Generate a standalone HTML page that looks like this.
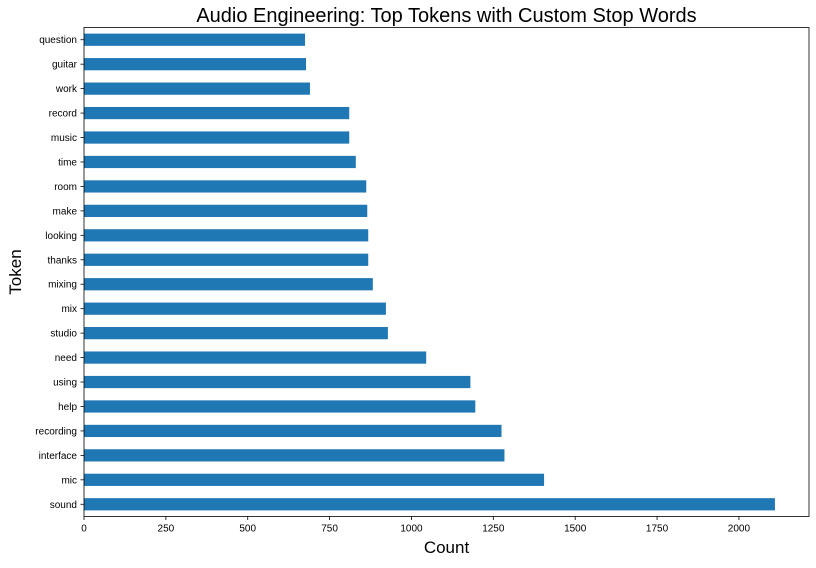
<!DOCTYPE html>
<html><head><meta charset="utf-8"><style>
body{margin:0;background:#fff;font-family:"Liberation Sans",sans-serif}
</style></head><body>
<svg id="chart" width="816" height="563" xmlns="http://www.w3.org/2000/svg"></svg>
<script>
const categories=["sound","mic","interface","recording","help","using","need","studio","mix","mixing","thanks","looking","make","room","time","music","record","work","guitar","question"];
const counts=[2110,1405,1284,1275,1195,1180,1045,928,922,882,868,868,865,862,830,810,810,690,678,675];
const xTicks=[0,250,500,750,1000,1250,1500,1750,2000];
const L=84,R=809,T=27.5,B=516.5,XMAX=2214;
const NS="http://www.w3.org/2000/svg";
const svg=document.getElementById('chart');
function xs(v){return L+v/XMAX*(R-L);}
const step=(B-T)/categories.length;
function ys(i){return B-step*(i+0.5);}
function mk(t,a,p){const e=document.createElementNS(NS,t);for(const k in a)e.setAttribute(k,a[k]);(p||svg).appendChild(e);return e;}
categories.forEach((c,i)=>{
 const r=mk('rect',{x:L,y:ys(i)-step*0.25,width:xs(counts[i])-L,height:step*0.5,fill:'#1f77b4'});
 
 
 mk('line',{x1:L-3.5,x2:L,y1:ys(i),y2:ys(i),stroke:'#000','stroke-width':0.8});
 const t=mk('text',{x:L-7,y:ys(i)+3.5,'text-anchor':'end','font-size':10});
 t.textContent=c;
 
 
});
xTicks.forEach(v=>{
 mk('line',{x1:xs(v),x2:xs(v),y1:B,y2:B+3.5,stroke:'#000','stroke-width':0.8});
 const t=mk('text',{x:xs(v),y:B+15,'text-anchor':'middle','font-size':10});
 t.textContent=v;
 
 
});
const fr=mk('rect',{x:L,y:T,width:R-L,height:B-T,fill:'none',stroke:'#000','stroke-width':0.8});


const ti=mk('text',{x:(L+R)/2,y:22,'text-anchor':'middle','font-size':20});
ti.textContent='Audio Engineering: Top Tokens with Custom Stop Words';


const xl=mk('text',{x:(L+R)/2,y:553,'text-anchor':'middle','font-size':17});
xl.textContent='Count';


const yl=mk('text',{x:0,y:0,'text-anchor':'middle','font-size':17,transform:'translate(21,272) rotate(-90)'});
yl.textContent='Token';


</script>
</body></html>
